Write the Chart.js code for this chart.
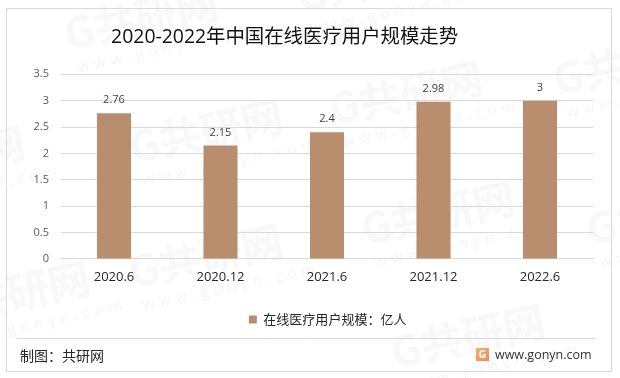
<!DOCTYPE html>
<html><head><meta charset="utf-8">
<style>html,body{margin:0;padding:0;background:#fff}#w{position:relative;width:620px;height:378px}</style>
<script src="https://cdn.jsdelivr.net/npm/chart.js@4"></script>
</head><body><div id="w"><canvas id="c" width="620" height="378"></canvas></div>
<script>
const categories = ['2020.6','2020.12','2021.6','2021.12','2022.6'];
const userScale = [2.76,2.15,2.4,2.98,3];
const valueLabels = ['2.76','2.15','2.4','2.98','3'];
const seriesName = '在线医疗用户规模\uFF1A亿人';
const titleText = '2020-2022年中国在线医疗用户规模走势';
const sourceText = '制图\uFF1A共研网';
const siteText = 'www.gonyn.com';
const FONT = '"Open Sans","Noto Sans CJK SC",sans-serif';
const CJK = '"Noto Sans CJK SC","Open Sans",sans-serif';

const backdrop = {
  id:'backdrop',
  afterLayout(chart){
    chart.titleBlock.left -= 12; chart.titleBlock.right -= 12;
    chart.legend.left += 31; chart.legend.right += 31;
  },
  beforeDraw(chart){
    const g = chart.ctx; g.save();
    g.fillStyle='#fff'; g.fillRect(0,0,620,378);
    const marks=[[68,50],[133,163],[133,288],[333,125],[365,245],[395,368],[557,95],[-60,325],[300,12],[590,245],[-125,190]];
    marks.forEach(([x,y])=>{
      g.save(); g.translate(x,y); g.rotate(-12*Math.PI/180);
      g.fillStyle='#f8f8f8'; g.font='bold 42px '+CJK; g.textBaseline='alphabetic'; g.textAlign='left';
      g.fillText('G共研网',0,0);
      g.fillStyle='#f5f5f5'; g.font='15px '+FONT; g.letterSpacing='5px';
      g.fillText('www.gonyn.com',6,24);
      g.restore();
    });
    g.restore();
  }
};
const overlay = {
  id:'overlay',
  afterDatasetsDraw(chart){
    const g = chart.ctx, meta = chart.getDatasetMeta(0); g.save();
    g.fillStyle='#404040'; g.font='11px '+FONT; g.textAlign='center'; g.textBaseline='middle';
    meta.data.forEach((b,i)=>g.fillText(valueLabels[i],b.x,chart.scales.y.getPixelForValue(userScale[i])-13));
    g.restore();
  },
  afterDraw(chart){
    const g = chart.ctx; g.save();
    g.strokeStyle='#d9d9d9'; g.lineWidth=1;
    g.strokeRect(6.5,8.5,605,363);
    g.beginPath(); g.moveTo(17,338.5); g.lineTo(596,338.5); g.stroke();
    g.fillStyle='#262626'; g.font='14px '+CJK; g.textBaseline='middle'; g.textAlign='left';
    g.fillText(sourceText,20,356);
    g.fillStyle='#333'; g.font='12.5px '+FONT;
    g.fillText(siteText,495,355);
    const gr=g.createLinearGradient(476,347,489,360); gr.addColorStop(0,'#f6b26b'); gr.addColorStop(1,'#f08a5d');
    g.fillStyle=gr; g.fillRect(476,348,13,13);
    g.fillStyle='#fff'; g.font='bold 11px '+FONT; g.textAlign='center'; g.fillText('G',482.5,354.5);
    g.restore();
  }
};
new Chart(document.getElementById('c'),{
  type:'bar',
  data:{labels:categories,datasets:[{label:seriesName,data:userScale,backgroundColor:'#b98e6e',barPercentage:0.32,categoryPercentage:1}]},
  plugins:[backdrop,overlay],
  options:{
    responsive:false,animation:false,
    layout:{padding:{left:0,right:26.75,top:0,bottom:42}},
    plugins:{
      title:{display:true,text:titleText,color:'#111',font:{family:FONT,size:19.4,weight:'normal'},padding:{top:26,bottom:25}},
      legend:{position:'bottom',labels:{color:'#262626',font:{family:CJK,size:13},boxWidth:8,boxHeight:8,padding:10},
        onClick:null},
      tooltip:{enabled:false}
    },
    scales:{
      x:{grid:{display:false},border:{color:'#d9d9d9'},afterFit(s){s.height+=15.5;},ticks:{color:'#262626',font:{family:FONT,size:13},padding:2.5}},
      y:{min:0,max:3.5,afterFit(s){s.width=60.75;},
         grid:{color:'#d9d9d9',drawTicks:false},border:{display:false},
         ticks:{stepSize:0.5,color:'#595959',font:{family:FONT,size:11},padding:11.75,callback:v=>String(v)}}
    }
  }
});
</script></body></html>
